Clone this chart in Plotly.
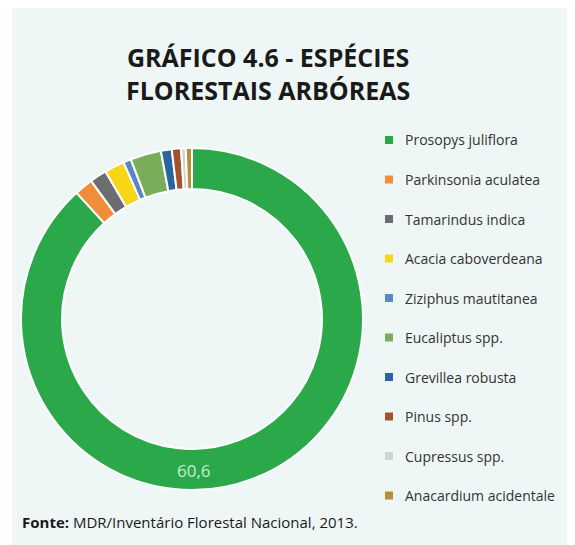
import plotly.graph_objects as go

# Data
species = [
    "Prosopys juliflora", "Parkinsonia aculatea", "Tamarindus indica",
    "Acacia caboverdeana", "Ziziphus mautitanea", "Eucaliptus spp.",
    "Grevillea robusta", "Pinus spp.", "Cupressus spp.", "Anacardium acidentale",
]
values = [60.6, 1.2, 1.1, 1.3, 0.5, 2.0, 0.7, 0.6, 0.3, 0.4]
colors = [
    "#2ba84a", "#f08c3a", "#6b6d70", "#f7d616", "#5a86c4",
    "#7aad5a", "#2a65a0", "#a3532c", "#d0d3d4", "#b58e3c",
]

# page body adds an 8px margin, so the figure is a bit smaller and offset
OFF = 8
W, H = 575 - OFF, 545 - OFF
BG = "#eef7f5"


def px_x(x):
    return (x - OFF) / W


def px_y(y):
    return 1 - (y - OFF) / H


fig = go.Figure()

fig.add_trace(go.Pie(
    labels=species,
    values=values,
    marker=dict(colors=colors, line=dict(color="white", width=2)),
    hole=0.76,
    sort=False,
    direction="clockwise",
    rotation=0,
    textinfo="none",
    showlegend=False,
    domain=dict(x=[px_x(21), px_x(363)], y=[px_y(490), px_y(148)]),
))

annotations = []
shapes = [
    # mint panel behind the chart
    dict(type="rect", xref="paper", yref="paper", layer="below",
         x0=px_x(12), x1=1, y0=0, y1=1,
         fillcolor=BG, line=dict(width=0)),
]

# title
annotations.append(dict(
    text="<b>GRÁFICO 4.6 - ESPÉCIES<br>FLORESTAIS ARBÓREAS</b>",
    x=px_x(268), y=px_y(74), xref="paper", yref="paper",
    xanchor="center", yanchor="middle", showarrow=False,
    font=dict(family="Open Sans", size=25, color="#1a1a1a"),
))

# value on the main slice
annotations.append(dict(
    text=f"{values[0]:.1f}".replace(".", ","),
    x=px_x(194), y=px_y(470), xref="paper", yref="paper",
    xanchor="center", yanchor="middle", showarrow=False,
    font=dict(family="Open Sans", size=17, color="#c9efcf"),
))

# legend drawn by hand to match the wide spacing
y0, step = 140, 39.5
for i, (name, col) in enumerate(zip(species, colors)):
    yc = y0 + i * step
    shapes.append(dict(type="rect", xref="paper", yref="paper",
                       x0=px_x(385), x1=px_x(393),
                       y0=px_y(yc + 4), y1=px_y(yc - 4),
                       fillcolor=col, line=dict(width=0)))
    annotations.append(dict(
        text=name, x=px_x(403), y=px_y(yc), xref="paper", yref="paper",
        xanchor="left", yanchor="middle", showarrow=False,
        font=dict(family="Open Sans", size=14, color="#333333"),
    ))

# source
annotations.append(dict(
    text="<b>Fonte:</b> MDR/Inventário Florestal Nacional, 2013.",
    x=px_x(20), y=px_y(522), xref="paper", yref="paper",
    xanchor="left", yanchor="middle", showarrow=False,
    font=dict(family="Open Sans", size=15, color="#1a1a1a"),
))

fig.update_layout(
    width=W,
    height=H,
    margin=dict(l=0, r=0, t=0, b=0),
    paper_bgcolor="white",
    plot_bgcolor="white",
    shapes=shapes,
    annotations=annotations,
)

fig.write_html("out.html")
